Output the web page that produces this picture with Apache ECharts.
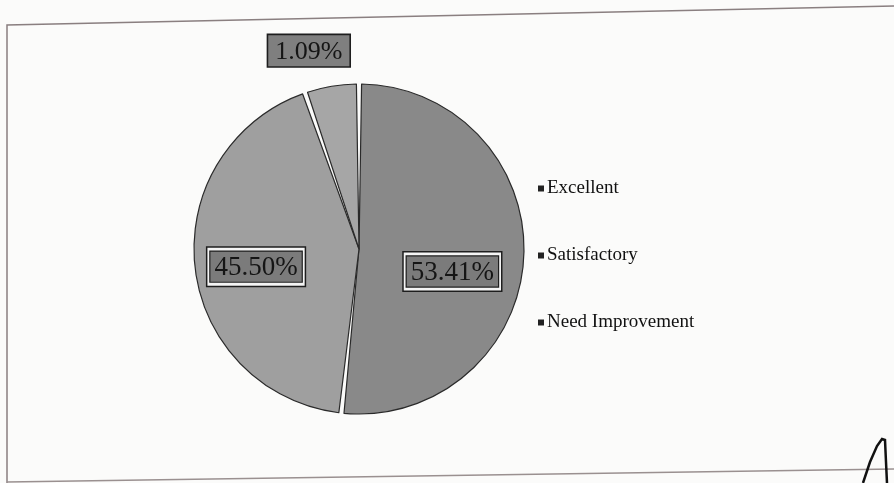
<!DOCTYPE html>
<html>
<head>
<meta charset="utf-8">
<script src="https://cdn.jsdelivr.net/npm/echarts@6/dist/echarts.min.js"></script>
<style>html,body{margin:0;padding:0;background:#fbfbfa;}#c{width:894px;height:483px;}</style>
</head>
<body>
<div id="c"></div>
<script>
// Category names
const categories = ['Excellent', 'Satisfactory', 'Need Improvement'];
// Slice sizes as drawn in the picture (share of the circle, %)
const sliceValues = [51.7, 43.0, 5.3];
// Printed percentage labels
const labelTexts = ['53.41%', '45.50%', '1.09%'];

const sliceColors = ['#898989', '#9f9f9f', '#a6a6a6'];
const labelOffsets = [[8, 18], [-18, 8], [-36, -114]];
const labelFramed = [true, true, false];

const chart = echarts.init(document.getElementById('c'), null, {renderer: 'canvas'});

const serif = '"Liberation Serif", "Times New Roman", serif';

chart.setOption({
  backgroundColor: '#fbfbfa',
  animation: false,
  legend: {
    orient: 'vertical',
    left: 533,
    top: 174,
    itemGap: 48,
    icon: 'rect',
    itemWidth: 6,
    itemHeight: 6,
    itemStyle: {color: '#222', borderWidth: 0},
    textStyle: {fontFamily: serif, fontSize: 19, color: '#111', padding: [0, 0, 0, -2]},
    data: categories
  },
  graphic: [
    {type: 'polyline', silent: true, shape: {points: [[7, 483], [7, 25], [894, 6]]}, style: {stroke: '#8a7f80', lineWidth: 1.5, fill: null}},
    {type: 'polyline', silent: true, shape: {points: [[7, 482], [894, 469]]}, style: {stroke: '#9a9090', lineWidth: 1.5, fill: null}},
    {type: 'polyline', silent: true, shape: {points: [[863, 483], [870, 462], [877, 446], [882, 439], [885, 440], [886, 462], [887, 483]]}, style: {stroke: '#111', lineWidth: 2.5, fill: null}}
  ],
  series: [
    {
      type: 'pie',
      center: [359, 249],
      radius: [0, 165],
      startAngle: 90,
      clockwise: true,
      padAngle: 1.8,
      itemStyle: {borderColor: '#2a2a2a', borderWidth: 1.2},
      label: {
        show: true,
        position: 'inside',
        formatter: p => labelFramed[p.dataIndex] ? '{t|' + labelTexts[p.dataIndex] + '}' : '{s|' + labelTexts[p.dataIndex] + '}',
        rich: {
          t: {
            fontFamily: serif,
            fontSize: 27,
            color: '#151515',
            backgroundColor: '#7b7b7b',
            borderColor: '#1e1e1e',
            borderWidth: 1.2,
            padding: [3, 4, 0, 4],
            lineHeight: 32
          },
          s: {
            fontFamily: serif,
            fontSize: 26,
            color: '#151515',
            backgroundColor: '#7f7f7f',
            borderColor: '#1e1e1e',
            borderWidth: 1.6,
            padding: [4, 7, 1, 7],
            lineHeight: 30
          }
        }
      },
      labelLine: {show: false},
      emphasis: {disabled: true},
      data: categories.map((name, i) => ({
        name: name,
        value: sliceValues[i],
        itemStyle: {color: sliceColors[i]},
        label: labelFramed[i]
          ? {offset: labelOffsets[i], backgroundColor: '#f4f4f4', borderColor: '#1e1e1e', borderWidth: 1.5, padding: 3}
          : {offset: labelOffsets[i]}
      }))
    }
  ]
});
</script>
</body>
</html>
